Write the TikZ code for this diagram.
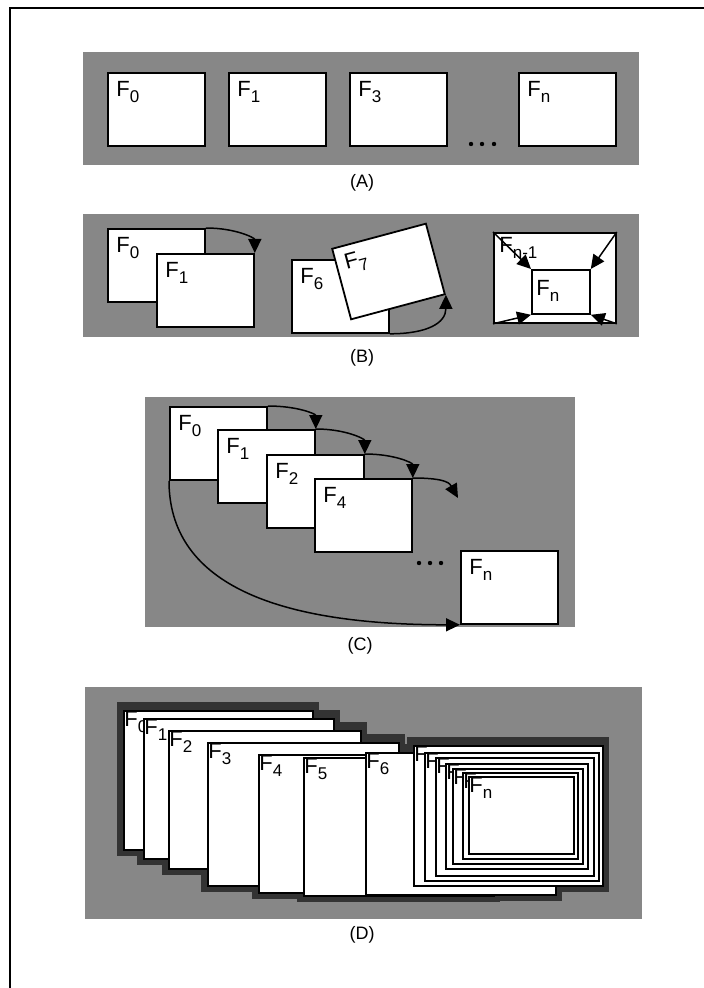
\documentclass[tikz,border=0pt]{standalone}
\usepackage{fontspec}
\setmainfont{Liberation Sans}
\usetikzlibrary{positioning,calc,arrows.meta}

\newcommand{\Fsub}[1]{F\raisebox{-2.8pt}{\fontsize{8.5}{8.5}\selectfont #1}}

\begin{document}
\begin{tikzpicture}[x=0.5pt, y=-0.5pt,
  panel/.style={fill=black!47},
  frm/.style={draw, fill=white, line width=0.9pt, inner sep=0, anchor=north west,
              minimum width=48.5pt, minimum height=36.5pt},
  flab/.style={font=\fontsize{11}{13}\selectfont, inner sep=0, anchor=north west,
               xshift=4.5pt, yshift=-4.5pt},
  dfrm/.style={draw, fill=white, line width=0.8pt, inner sep=0, anchor=north west},
  dlab/.style={font=\fontsize{11}{13}\selectfont, inner sep=0, anchor=north west,
               xshift=0.5pt, yshift=-0.6pt},
  captxt/.style={font=\fontsize{9}{11}\selectfont},
  link/.style={line width=0.75pt, -{Triangle[length=7pt,width=6.5pt]}},
  fdot/.style={fill=black, circle, inner sep=0, minimum size=2.2pt}]

\useasboundingbox (0,0) rectangle (704,988);
\draw[line width=1.1pt] (10,988) -- (10,8) -- (704,8);

% (A)
\fill[panel] (83,52) rectangle (639,165);
\node[frm, label={[flab]north west:\Fsub{0}}] (a0) at (107,72) {};
\node[frm, label={[flab]north west:\Fsub{1}}] (a1) at (228,72) {};
\node[frm, label={[flab]north west:\Fsub{3}}] (a3) at (349,72) {};
\node[frm, label={[flab]north west:\Fsub{n}}] (an) at (518,72) {};
\foreach \x in {471,482,494} \node[fdot] at (\x,144) {};
\node[captxt] (capa) at (362,183) {(A)};

% (B)
\fill[panel] (83,214) rectangle (639,337);
\node[frm, label={[flab]north west:\Fsub{0}}] (b0) at (107,228) {};
\node[frm, label={[flab]north west:\Fsub{1}}] (b1) at (156,253) {};
\draw[link] (b0.north east) .. controls +(30,0) and +(0,-15) .. (b1.north east);
\node[frm, label={[flab]north west:\Fsub{6}}] (b6) at (291,259) {};
\begin{scope}[shift={(388.5,271.5)}, rotate=15, transform shape]
  \node[frm, anchor=center] (b7) at (0,0) {};
  \node[flab] (b7lab) at (b7.north west) {\Fsub{7}};
\end{scope}
\draw[link] (b6.south east) .. controls +(38,0) and +(0,28) .. (b7.south east);
\node[frm, minimum width=61pt, minimum height=45pt,
      label={[flab, xshift=-1.5pt, yshift=2pt]north west:\Fsub{n-1}}] (bm) at (493,232) {};
\node[frm, minimum width=29pt, minimum height=22pt,
      label={[flab, xshift=-2pt, yshift=-1pt]north west:\Fsub{n}}] (bn) at (531,269) {};
\foreach \c in {north west,north east,south west,south east}
  \draw[link] (bm.\c) -- (bn.\c);
\node[captxt] (capb) at (362,358) {(B)};

% (C)
\fill[panel] (145,397) rectangle (575,627);
\node[frm, label={[flab]north west:\Fsub{0}}] (c0) at (169,406) {};
\node[frm, label={[flab]north west:\Fsub{1}}] (c1) at (217,429) {};
\node[frm, label={[flab]north west:\Fsub{2}}] (c2) at (266,454) {};
\node[frm, label={[flab]north west:\Fsub{4}}] (c4) at (314,478) {};
\node[frm, label={[flab]north west:\Fsub{n}}] (cn) at (460,550) {};
\coordinate (cend) at (458,498);
\draw[link] (c0.north east) .. controls +(30,0) and +(0,-15) .. (c1.north east);
\draw[link] (c1.north east) .. controls +(30,0) and +(0,-15) .. (c2.north east);
\draw[link] (c2.north east) .. controls +(30,0) and +(0,-15) .. (c4.north east);
\draw[link] (c4.north east) .. controls +(35,0) and +(-8,-14) .. (cend);
\draw[link] (c0.south west) .. controls +(0,100) and +(-190,0) .. (cn.south west);
\foreach \x in {419,430,441} \node[fdot] at (\x,563) {};
\node[captxt] (capc) at (360,646) {(C)};

% (D)
\fill[panel] (85,687) rectangle (642,919);
\foreach \x/\y/\w/\h in {123/710/189/139, 143/718/190/140, 168/730/192/138,
    207/742/191/143, 258/754/190/138, 303/757/190/138, 365/752/190/142,
    413/745/189/140}
  \fill[black!80] (\x-6,\y-8) rectangle (\x+\w+7,\y+\h+7);
\foreach \i/\x/\y/\w/\h/\t in {0/123/710/189/139/\Fsub{0}, 1/143/718/190/140/\Fsub{1},
    2/168/730/192/138/\Fsub{2}, 3/207/742/191/143/\Fsub{3}, 4/258/754/190/138/\Fsub{4},
    5/303/757/190/138/\Fsub{5}, 6/365/752/190/142/\Fsub{6}, 7/413/745/189/140/F,
    8/424/752/174/128/F, 9/435/757/158/118/F, 10/445/763/142/105/F,
    11/452/768/130/95/F, 12/462/772/115/86/F, 13/468/776/105/77/\Fsub{n}}
  \node[dfrm, minimum width=\w*0.5pt, minimum height=\h*0.5pt,
        label={[dlab]north west:\t}] (d\i) at (\x,\y) {};
\node[captxt] (capd) at (362,935) {(D)};
\end{tikzpicture}
\end{document}
